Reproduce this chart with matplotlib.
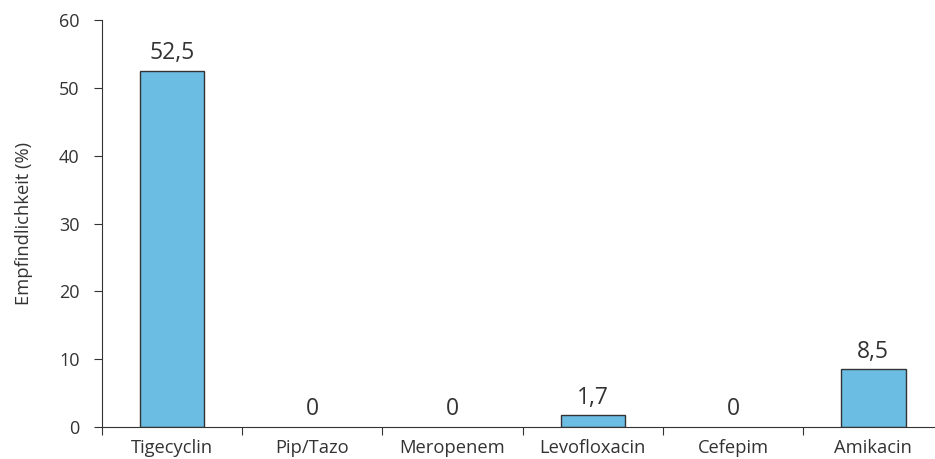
import numpy as np
import matplotlib.pyplot as plt
from matplotlib.ticker import FixedLocator

plt.rcParams['font.family'] = ['Open Sans', 'DejaVu Sans']

categories = ['Tigecyclin', 'Pip/Tazo', 'Meropenem', 'Levofloxacin', 'Cefepim', 'Amikacin']
values = [52.5, 0, 0, 1.7, 0, 8.5]
labels = ['52,5', '0', '0', '1,7', '0', '8,5']
yticks = [0, 10, 20, 30, 40, 50, 60]

text_color = '#333333'

fig = plt.figure(figsize=(9.35, 4.59), dpi=100)
ax = fig.add_axes([0.109, 0.070, 0.891, 0.886])

x = np.arange(len(categories))
# skip outlines for empty bars, they would just thicken the axis line
ax.bar(x, values, width=0.46, color='#6bbde4',
       edgecolor=['#333333' if v > 0 else 'none' for v in values], linewidth=1.0)

for xi, v, lab in zip(x, values, labels):
    ax.annotate(lab, (xi, v), xytext=(0, 4), textcoords='offset points',
                ha='center', va='bottom', fontsize=16.5, color=text_color)

ax.set_xlim(-0.5, 5.44)
ax.set_ylim(0, 60)
ax.set_yticks(yticks)
ax.set_xticks(x)
ax.set_xticklabels(categories)
ax.xaxis.set_minor_locator(FixedLocator(np.arange(-0.5, 6, 1.0)))
ax.tick_params(axis='x', which='major', length=0, pad=9, labelsize=13.2, colors=text_color)
ax.tick_params(axis='x', which='minor', length=6, width=0.8, color='#333333')
ax.tick_params(axis='y', length=6, width=0.8, labelsize=13, colors=text_color, color='#333333', pad=10)

for s in ['top', 'right']:
    ax.spines[s].set_visible(False)
for s in ['left', 'bottom']:
    ax.spines[s].set_color('#333333')
    ax.spines[s].set_linewidth(0.8)

ax.set_ylabel('Empfindlichkeit (%)', fontsize=13.2, color=text_color, labelpad=19)

fig.savefig('out.png', dpi=100)
